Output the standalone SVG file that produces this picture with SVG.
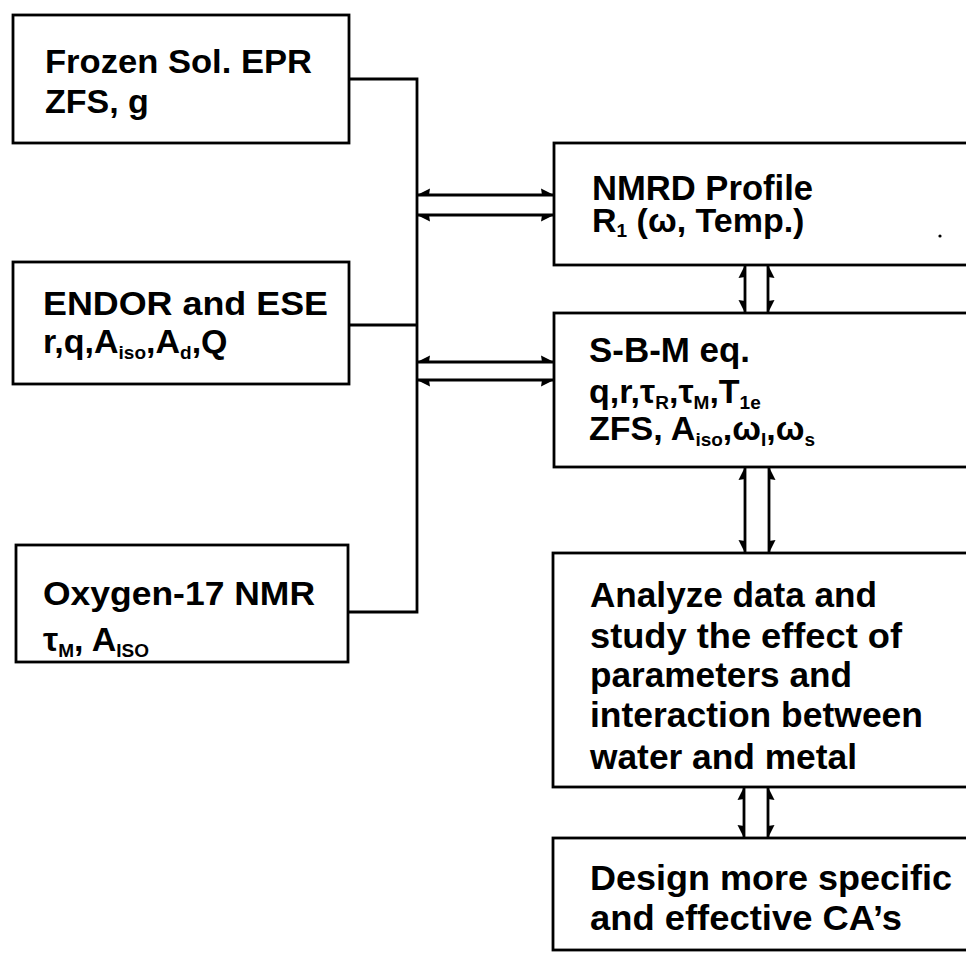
<svg xmlns="http://www.w3.org/2000/svg" width="966" height="953" viewBox="0 0 966 953">
<style>
.box{fill:#fff;stroke:#000;stroke-width:2.8}
.ln{fill:none;stroke:#000;stroke-width:2.8}
text{font-family:"Liberation Sans",Arial,sans-serif;font-weight:bold;fill:#000;font-size:34px}
.r{font-size:35px}
.sub{font-size:19px}
</style>
<defs>
<marker id="ha" viewBox="0 0 14 14" markerWidth="14" markerHeight="14" refX="13" refY="7" orient="auto-start-reverse" markerUnits="userSpaceOnUse"><path d="M13,7 L0,0.5 L1,7 Z" fill="#000"/></marker>
<marker id="hb" viewBox="0 0 14 14" markerWidth="14" markerHeight="14" refX="13" refY="7" orient="auto-start-reverse" markerUnits="userSpaceOnUse"><path d="M13,7 L0,13.5 L1,7 Z" fill="#000"/></marker>
</defs>
<rect width="966" height="953" fill="#fff"/>
<g id="connectors">
<path class="ln" d="M349,79 H417 V612 H348"/>
<path class="ln" d="M349,325 H417"/>
<path class="ln" d="M417,195 H554" marker-start="url(#hb)" marker-end="url(#ha)"/>
<path class="ln" d="M417,215 H554" marker-start="url(#ha)" marker-end="url(#hb)"/>
<path class="ln" d="M417,362 H554" marker-start="url(#hb)" marker-end="url(#ha)"/>
<path class="ln" d="M417,380 H554" marker-start="url(#ha)" marker-end="url(#hb)"/>
<path class="ln" d="M745,265 V313" marker-start="url(#ha)" marker-end="url(#hb)"/>
<path class="ln" d="M768,265 V313" marker-start="url(#hb)" marker-end="url(#ha)"/>
<path class="ln" d="M745,467 V553" marker-start="url(#ha)" marker-end="url(#hb)"/>
<path class="ln" d="M769,467 V553" marker-start="url(#hb)" marker-end="url(#ha)"/>
<path class="ln" d="M744,787 V838" marker-start="url(#ha)" marker-end="url(#hb)"/>
<path class="ln" d="M768,787 V838" marker-start="url(#hb)" marker-end="url(#ha)"/>
</g>
<g id="frozen">
<rect class="box" x="13" y="15" width="336" height="128"/>
<text x="45" y="73" textLength="267" lengthAdjust="spacingAndGlyphs">Frozen Sol. EPR</text>
<text x="45" y="113">ZFS, g</text>
</g>
<g id="endor">
<rect class="box" x="13" y="262" width="336" height="122"/>
<text x="43" y="315" textLength="285" lengthAdjust="spacingAndGlyphs">ENDOR and ESE</text>
<text x="43" y="353">r,q,A<tspan class="sub" dy="6">iso</tspan><tspan dy="-6">,A</tspan><tspan class="sub" dy="6">d</tspan><tspan dy="-6">,Q</tspan></text>
</g>
<g id="oxygen">
<rect class="box" x="16" y="545" width="332" height="117"/>
<text x="43" y="605" textLength="272" lengthAdjust="spacingAndGlyphs">Oxygen-17 NMR</text>
<text x="43" y="651">τ<tspan class="sub" dy="6">M</tspan><tspan dy="-6">, A</tspan><tspan class="sub" dy="6">ISO</tspan></text>
</g>
<g id="nmrd">
<rect class="box" x="554" y="143" width="440" height="122"/>
<text class="r" x="592" y="200" textLength="221" lengthAdjust="spacingAndGlyphs">NMRD Profile</text>
<text x="592" y="232">R<tspan class="sub" dy="5">1</tspan><tspan dy="-5"> (ω, Temp.)</tspan></text>
<circle cx="940" cy="236" r="1.6" fill="#000"/>
</g>
<g id="sbm">
<rect class="box" x="554" y="313" width="440" height="154"/>
<text class="r" x="589" y="362" textLength="161" lengthAdjust="spacingAndGlyphs">S-B-M eq.</text>
<text x="589" y="403">q,r,τ<tspan class="sub" dy="6">R</tspan><tspan dy="-6">,τ</tspan><tspan class="sub" dy="6">M</tspan><tspan dy="-6">,T</tspan><tspan class="sub" dy="6">1e</tspan></text>
<text x="589" y="440">ZFS, A<tspan class="sub" dy="6">iso</tspan><tspan dy="-6">,ω</tspan><tspan class="sub" dy="6">I</tspan><tspan dy="-6">,ω</tspan><tspan class="sub" dy="6">s</tspan></text>
</g>
<g id="analyze">
<rect class="box" x="553" y="553" width="440" height="234"/>
<text class="r" x="590" y="607" textLength="287" lengthAdjust="spacingAndGlyphs">Analyze data and</text>
<text class="r" x="590" y="648" textLength="312" lengthAdjust="spacingAndGlyphs">study the effect of</text>
<text class="r" x="590" y="687" textLength="262" lengthAdjust="spacingAndGlyphs">parameters and</text>
<text class="r" x="590" y="727" textLength="333" lengthAdjust="spacingAndGlyphs">interaction between</text>
<text class="r" x="590" y="769" textLength="267" lengthAdjust="spacingAndGlyphs">water and metal</text>
</g>
<g id="design">
<rect class="box" x="553" y="838" width="440" height="112"/>
<text class="r" x="590" y="890" textLength="362" lengthAdjust="spacingAndGlyphs">Design more specific</text>
<text class="r" x="590" y="930" textLength="312" lengthAdjust="spacingAndGlyphs">and effective CA’s</text>
</g>
</svg>
